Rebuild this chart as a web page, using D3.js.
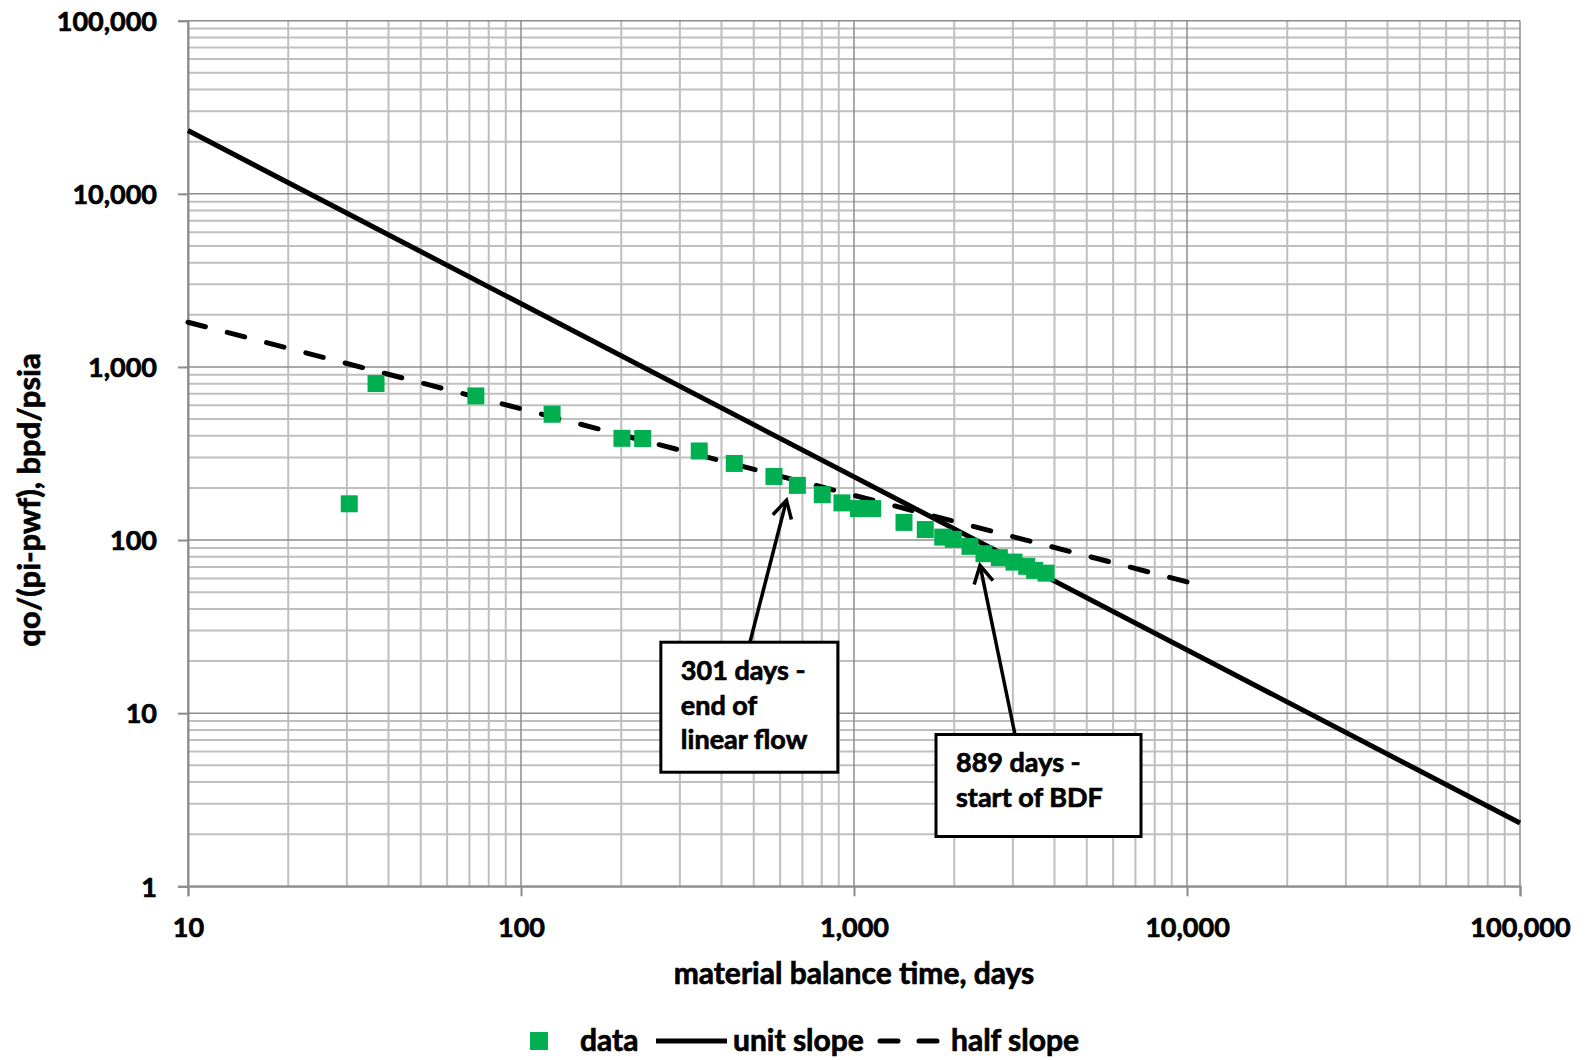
<!DOCTYPE html>
<html>
<head>
<meta charset="utf-8">
<script src="https://cdn.jsdelivr.net/npm/d3@7"></script>
<style>
  body { margin: 0; background: #fff; }
  svg text { font-family: Lato, "Open Sans", sans-serif; font-weight: bold; fill: #000; stroke: #000; stroke-width: 0.7px; }
</style>
</head>
<body>
<div id="chart"></div>
<script>
// material balance time (days) vs normalized rate
var mbTime = [30.5, 36.7, 73.2, 124, 201, 232, 343, 437, 575, 676, 803, 920, 1031, 1138,
  1413, 1637, 1847, 1987, 2230, 2457, 2732, 3023, 3301, 3488, 3773]
var qNorm = [162, 802, 680, 533, 387, 386, 327, 277, 233, 207, 183, 164, 152, 152,
  126.5, 115, 104, 101, 92, 83.4, 79.1, 74.6, 70.5, 66.8, 64.4]

var unitSlopeT = [10, 100000]
var unitSlopeQ = [23200, 2.32]
var halfSlopeT = [10, 10000]
var halfSlopeQ = [1813, 57.3]

var xTicks = [10, 100, 1000, 10000, 100000]
var yTicks = [1, 10, 100, 1000, 10000, 100000]

// annotation anchors in data units (arrow tip, arrow tail = box top)
var notes = [
  { lines: ['301 days -', 'end of', 'linear flow'], tip: [627, 170], tail: [487, 25.7], boxLeft: 263, w: 177, h: 130 },
  { lines: ['889 days -', 'start of BDF'], tip: [2390, 71.4], tail: [3044, 7.53], boxLeft: 1763, w: 205, h: 102 }
]

var legendItems = ['data', 'unit slope', 'half slope']

var W = 1587, H = 1060
var margin = { left: 188, top: 20.7, right: 67, bottom: 173.7 }
var iw = W - margin.left - margin.right
  , ih = H - margin.top - margin.bottom

var svg = d3.select('#chart').append('svg')
  .attr('width', W)
  .attr('height', H)

var x = d3.scaleLog().domain([10, 100000]).range([0, iw])
  , y = d3.scaleLog().domain([1, 100000]).range([ih, 0])

var g = svg.append('g').attr('transform', 'translate(' + margin.left + ',' + margin.top + ')')

// minor grid (2..9 in every decade)
function minors(lo, hi) {
  var out = []
  for (var d = lo; d < hi; d *= 10) {
    for (var k = 2; k < 10; k++) out.push(d * k)
  }
  return out
}

g.append('g').selectAll('line').data(minors(10, 100000)).enter().append('line')
  .attr('x1', function(d) { return x(d) }).attr('x2', function(d) { return x(d) })
  .attr('y1', 0).attr('y2', ih)
  .attr('stroke', '#bfbfbf').attr('stroke-width', 2)

g.append('g').selectAll('line').data(minors(1, 100000)).enter().append('line')
  .attr('y1', function(d) { return y(d) }).attr('y2', function(d) { return y(d) })
  .attr('x1', 0).attr('x2', iw)
  .attr('stroke', '#bfbfbf').attr('stroke-width', 2)

// major grid
g.append('g').selectAll('line').data(xTicks).enter().append('line')
  .attr('x1', function(d) { return x(d) }).attr('x2', function(d) { return x(d) })
  .attr('y1', 0).attr('y2', ih)
  .attr('stroke', '#8c8c8c').attr('stroke-width', 1.5)

g.append('g').selectAll('line').data(yTicks).enter().append('line')
  .attr('y1', function(d) { return y(d) }).attr('y2', function(d) { return y(d) })
  .attr('x1', 0).attr('x2', iw)
  .attr('stroke', '#8c8c8c').attr('stroke-width', 1.5)

// axes
var fmt = d3.format(',')
var xAxis = g.append('g')
  .attr('transform', 'translate(0,' + ih + ')')
  .call(d3.axisBottom(x).tickValues(xTicks).tickFormat(fmt).tickSize(10).tickPadding(21))
var yAxis = g.append('g')
  .call(d3.axisLeft(y).tickValues(yTicks).tickFormat(fmt).tickSize(10).tickPadding(21))

;[xAxis, yAxis].forEach(function(a) {
  a.select('.domain').attr('stroke', '#8c8c8c').attr('stroke-width', 2)
  a.selectAll('.tick line').attr('stroke', '#8c8c8c').attr('stroke-width', 2)
  a.selectAll('.tick text').style('font-size', '27px').style('font-family', 'Lato, sans-serif').style('font-weight', 'bold')
})
yAxis.selectAll('.tick text').attr('dy', '0.36em')
xAxis.selectAll('.tick text').attr('dy', '0.72em')

// reference lines
var line = d3.line()
  .x(function(d) { return x(d[0]) })
  .y(function(d) { return y(d[1]) })

g.append('path')
  .datum(d3.zip(unitSlopeT, unitSlopeQ))
  .attr('d', line)
  .attr('fill', 'none').attr('stroke', '#000').attr('stroke-width', 5)

var half = g.append('path')
  .datum(d3.zip(halfSlopeT, halfSlopeQ))
  .attr('d', line)
  .attr('fill', 'none').attr('stroke', '#000').attr('stroke-width', 5)
  .attr('stroke-linecap', 'round')

// make the dash pattern finish on a dash, like the original
var dash = 18
  , total = half.node().getTotalLength()
  , n = Math.round((total - dash) / 40)
  , gap = (total - dash) / n - dash
half.attr('stroke-dasharray', dash + ',' + gap)

// data squares
var sq = 17
g.append('g').selectAll('rect').data(d3.zip(mbTime, qNorm)).enter().append('rect')
  .attr('x', function(d) { return x(d[0]) - sq / 2 })
  .attr('y', function(d) { return y(d[1]) - sq / 2 })
  .attr('width', sq).attr('height', sq)
  .attr('fill', '#00b050')

// annotations: box + arrow
notes.forEach(function(n) {
  var tx = x(n.tip[0]), ty = y(n.tip[1])
    , sx = x(n.tail[0]), sy = y(n.tail[1])
    , bx = x(n.boxLeft)

  g.append('line')
    .attr('x1', sx).attr('y1', sy).attr('x2', tx).attr('y2', ty)
    .attr('stroke', '#000').attr('stroke-width', 3.5)

  var ang = Math.atan2(ty - sy, tx - sx)
    , len = 20, spread = 0.5
  g.append('path')
    .attr('d', 'M' + (tx - len * Math.cos(ang - spread)) + ',' + (ty - len * Math.sin(ang - spread)) +
      'L' + tx + ',' + ty +
      'L' + (tx - len * Math.cos(ang + spread)) + ',' + (ty - len * Math.sin(ang + spread)))
    .attr('fill', 'none').attr('stroke', '#000').attr('stroke-width', 3.5)

  g.append('rect')
    .attr('x', bx).attr('y', sy).attr('width', n.w).attr('height', n.h)
    .attr('fill', '#fff').attr('stroke', '#000').attr('stroke-width', 3)

  var t = g.append('text')
    .attr('x', bx + 20).attr('y', sy + 38)
    .style('font-size', '27px')
  t.selectAll('tspan').data(n.lines).enter().append('tspan')
    .attr('x', bx + 20)
    .attr('dy', function(d, i) { return i ? 34.5 : 0 })
    .text(function(d) { return d })
})

// axis titles
svg.append('text')
  .attr('x', margin.left + iw / 2).attr('y', 984)
  .attr('text-anchor', 'middle')
  .style('font-size', '30px')
  .text('material balance time, days')

svg.append('text')
  .attr('transform', 'translate(40,500) rotate(-90)')
  .attr('text-anchor', 'middle')
  .style('font-size', '31px')
  .text('qo/(pi-pwf), bpd/psia')

// legend
var lg = svg.append('g').attr('transform', 'translate(0,1041)')
lg.append('rect').attr('x', 530).attr('y', -9).attr('width', 18).attr('height', 18).attr('fill', '#00b050')
lg.append('text').attr('x', 580).attr('y', 10).style('font-size', '30px').text(legendItems[0])
lg.append('line').attr('x1', 656).attr('x2', 727).attr('y1', 0).attr('y2', 0)
  .attr('stroke', '#000').attr('stroke-width', 5)
lg.append('text').attr('x', 733).attr('y', 10).style('font-size', '30px').text(legendItems[1])
lg.append('line').attr('x1', 880).attr('x2', 937).attr('y1', 0).attr('y2', 0)
  .attr('stroke', '#000').attr('stroke-width', 5)
  .attr('stroke-dasharray', '18,21').attr('stroke-linecap', 'round')
lg.append('text').attr('x', 951).attr('y', 10).style('font-size', '30px').text(legendItems[2])
</script>
</body>
</html>
